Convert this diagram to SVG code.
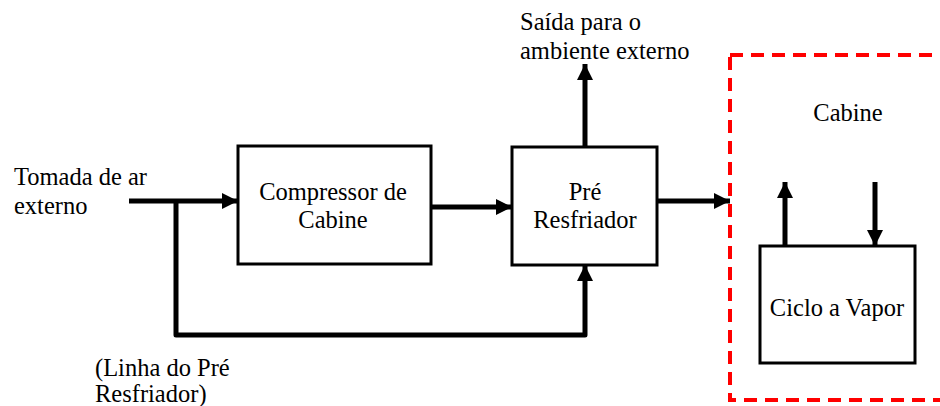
<svg xmlns="http://www.w3.org/2000/svg" width="940" height="406" viewBox="0 0 940 406">
  <style>
    text { font-family: "Liberation Serif", "DejaVu Serif", serif; font-size: 24.5px; fill: #000; }
    .mid { text-anchor: middle; }
    .box { fill: #fff; stroke: #000; stroke-width: 3; }
    .line { fill: none; stroke: #000; stroke-width: 5; stroke-linejoin: round; }
    .zone { fill: none; stroke: #ff0000; stroke-width: 4; stroke-dasharray: 13 8; }
  </style>
  <defs>
    <marker id="head" viewBox="0 0 10 10" refX="10" refY="5" markerWidth="3.2" markerHeight="3.2" orient="auto" markerUnits="strokeWidth">
      <path d="M0,0 L10,5 L0,10 Z" fill="#000"/>
    </marker>
  </defs>
  <rect width="940" height="406" fill="#fff"/>

  <!-- cabin boundary -->
  <g id="cabine">
    <rect class="zone" x="730" y="55" width="240" height="345"/>
    <text class="mid" x="848" y="121">Cabine</text>
  </g>

  <g id="compressor">
    <rect class="box" x="238" y="146" width="193" height="118"/>
    <text class="mid" x="333" y="200">Compressor de</text>
    <text class="mid" x="333" y="228">Cabine</text>
  </g>

  <g id="pre-resfriador">
    <rect class="box" x="512" y="147" width="145" height="118"/>
    <text class="mid" x="585" y="200">Pré</text>
    <text class="mid" x="585" y="228">Resfriador</text>
  </g>

  <g id="ciclo-vapor">
    <rect class="box" x="760" y="246" width="155" height="117"/>
    <text class="mid" x="837" y="316">Ciclo a Vapor</text>
  </g>

  <g id="labels">
    <text x="14" y="185">Tomada de ar</text>
    <text x="14" y="214">externo</text>
    <text x="520" y="30">Saída para o</text>
    <text x="520" y="59">ambiente externo</text>
    <text x="95" y="376">(Linha do Pré</text>
    <text x="95" y="402">Resfriador)</text>
  </g>

  <g id="connectors">
    <line class="line" x1="129" y1="201" x2="238" y2="201" marker-end="url(#head)"/>
    <path class="line" d="M176,201 V335 H585 V265" marker-end="url(#head)"/>
    <line class="line" x1="431" y1="207" x2="512" y2="207" marker-end="url(#head)"/>
    <line class="line" x1="657" y1="201" x2="730" y2="201" marker-end="url(#head)"/>
    <line class="line" x1="585" y1="147" x2="585" y2="64" marker-end="url(#head)"/>
    <line class="line" x1="785" y1="246" x2="785" y2="182" marker-end="url(#head)"/>
    <line class="line" x1="875" y1="182" x2="875" y2="246" marker-end="url(#head)"/>
  </g>
</svg>
